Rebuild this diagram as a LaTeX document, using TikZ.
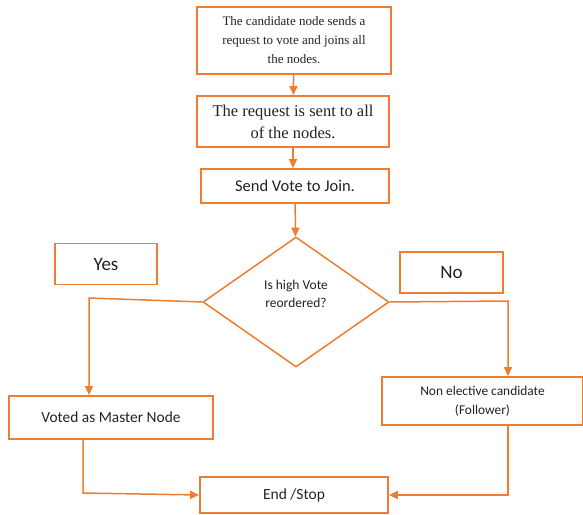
\documentclass[tikz,border=0pt]{standalone}
\usepackage{fontspec}
\setmainfont{Carlito}
\newfontfamily\timesfont{Liberation Serif}
\usetikzlibrary{arrows.meta,shapes.geometric,positioning}
\definecolor{flowOrange}{HTML}{ED7D31}
\definecolor{flowText}{HTML}{222222}

\begin{document}
\begin{tikzpicture}[x=1pt, y=-1pt, >={Triangle[length=9pt,width=8pt]},
    box/.style={draw=flowOrange, line width=1.8pt, align=center, inner sep=0pt, text=flowText},
    decision/.style={draw=flowOrange, line width=1.5pt, shape=diamond, inner sep=0pt, minimum width=186pt, minimum height=130pt, text=flowText},
    link/.style={draw=flowOrange, line width=1.5pt, ->}]
                            \useasboundingbox (0,0) rectangle (583,514);

                            \node at (294,40.5) [box, minimum width=194pt, minimum height=67pt, font={\timesfont\fontsize{13}{19}\selectfont}] (candidate) {The candidate node sends a\\request to vote and joins all\\the nodes.};
                            \node at (293,121.5) [box, minimum width=192pt, minimum height=51pt, font={\timesfont\fontsize{16.5}{22}\selectfont}] (sent) {The request is sent to all\\of the nodes.};
                            \node at (295,186) [box, minimum width=188pt, minimum height=34pt, font={\fontsize{16.5}{20}\selectfont}] (join) {Send Vote to Join.};
                            \node at (296,302) [decision, label={[yshift=8pt, align=center, text=flowText, font={\fontsize{13.5}{18}\selectfont}]center:Is high Vote\\reordered?}] (vote) {};

                            \node at (106,264) [box, minimum width=102pt, minimum height=41pt, font={\fontsize{19}{22}\selectfont}] (yes) {Yes};
                            \node at (451.5,272.5) [box, minimum width=103pt, minimum height=41pt, font={\fontsize{19}{22}\selectfont}] (no) {No};

                            \node at (111,417.5) [box, minimum width=204pt, minimum height=43pt, font={\fontsize{15.4}{19}\selectfont}] (master) {Voted as Master Node};
                            \node at (482.5,401) [box, minimum width=201pt, minimum height=48pt, font={\fontsize{13.4}{19}\selectfont}] (follower) {Non elective candidate\\(Follower)};
                            \node at (294,495) [box, minimum width=188pt, minimum height=36pt, font={\fontsize{15.5}{19}\selectfont}] (stop) {End /Stop};

                            \coordinate (yesbend) at (89,298);
                            \coordinate (nobend) at (508,301);
                            \coordinate (masterbend) at (83,493);

                            \draw[link] (candidate) -- (sent);
                            \draw[link] (sent.south) -- (sent.south |- join.north);
                            \draw[link] (join) -- (vote);
                            \draw[link] (vote.west) -- (yesbend) -- (yesbend |- master.north);
                            \draw[link] (vote.east) -- (nobend) -- (nobend |- follower.north);
                            \draw[link] (masterbend |- master.south) -- (masterbend) -- (stop.west);
                            \draw[link] (nobend |- follower.south) -- (nobend |- stop.east) -- (stop.east);
                     \end{tikzpicture}
\end{document}
